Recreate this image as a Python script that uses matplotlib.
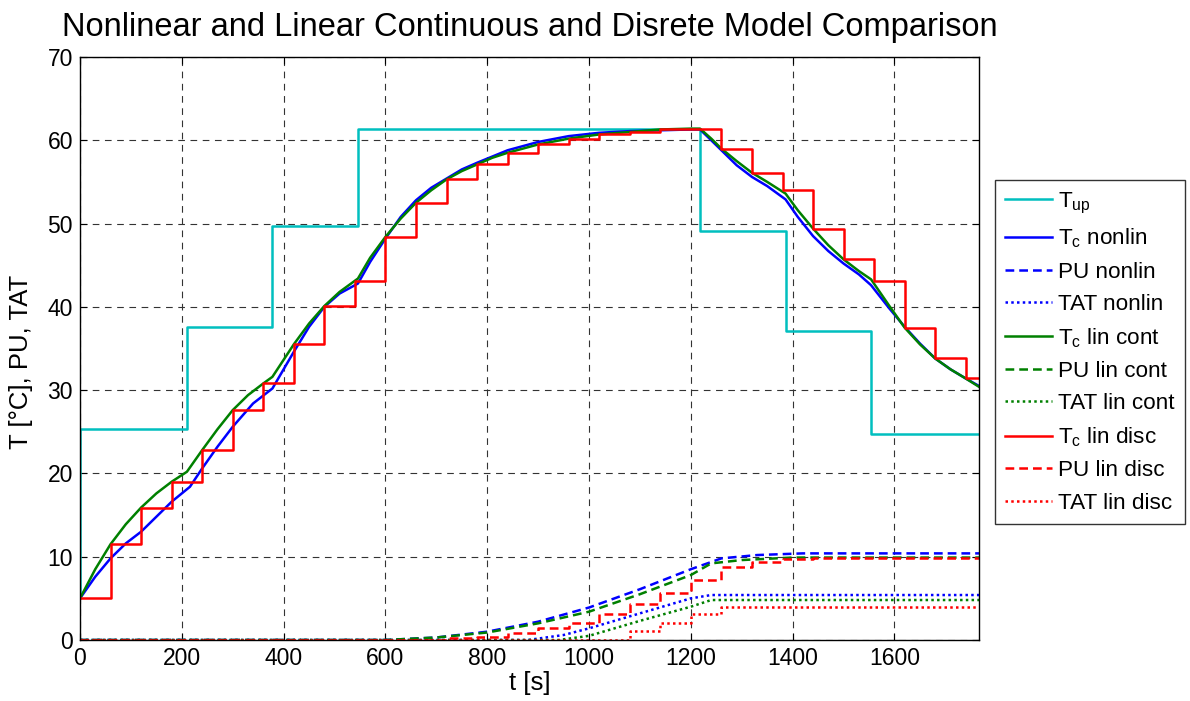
import matplotlib
matplotlib.use('Agg')
import matplotlib.pyplot as plt

plt.rcParams['font.family'] = ['Liberation Sans', 'DejaVu Sans']
plt.rcParams['mathtext.default'] = 'regular'

t_end = 1766

# upper temperature set point (step input)
tup_t = [0, 0, 210, 378, 546, 1218, 1386, 1554, t_end]
tup_v = [5.0, 25.3, 37.6, 49.7, 61.4, 49.1, 37.1, 24.7, 24.7]

# Tc, nonlinear model
tc_nl_t = [0, 30, 60, 90, 120, 150, 180, 216, 240, 270, 300, 340, 378, 420, 450, 480, 510,
           546, 570, 600, 630, 660, 690, 720, 750, 780, 840, 900, 960, 1020, 1080, 1140,
           1200, 1218, 1240, 1260, 1290, 1320, 1350, 1386, 1410, 1440, 1470, 1500, 1530,
           1554, 1590, 1620, 1650, 1680, 1710, 1740, t_end]
tc_nl_v = [5.0, 7.6, 9.8, 11.6, 13.0, 14.8, 16.6, 18.4, 20.6, 23.2, 25.6, 28.4, 30.2, 34.6,
           37.6, 40.0, 41.6, 42.8, 45.4, 48.2, 50.8, 52.8, 54.3, 55.4, 56.5, 57.3, 58.8,
           59.8, 60.5, 60.9, 61.1, 61.2, 61.3, 61.3, 60.0, 58.8, 57.0, 55.6, 54.5, 52.9,
           50.8, 48.5, 46.7, 45.2, 43.9, 42.6, 39.8, 37.6, 35.6, 33.8, 32.5, 31.4, 30.5]

# Tc, linear continuous model
tc_lc_t = [0, 30, 60, 90, 120, 150, 180, 210, 240, 270, 300, 330, 360, 378, 420, 450, 480,
           510, 546, 570, 600, 630, 660, 690, 720, 750, 780, 810, 840, 870, 900, 960,
           1020, 1080, 1140, 1200, 1218, 1240, 1260, 1290, 1320, 1350, 1386, 1410, 1440,
           1470, 1500, 1530, 1554, 1590, 1620, 1650, 1680, 1710, 1740, t_end]
tc_lc_v = [5.0, 8.5, 11.5, 13.9, 15.9, 17.6, 19.0, 20.2, 22.8, 25.3, 27.6, 29.4, 30.8, 31.6,
           35.5, 38.0, 40.1, 41.8, 43.4, 45.9, 48.4, 50.6, 52.5, 54.0, 55.3, 56.3, 57.1,
           57.9, 58.5, 59.0, 59.5, 60.2, 60.7, 61.0, 61.3, 61.4, 61.4, 60.2, 59.0, 57.5,
           56.1, 55.0, 53.6, 51.6, 49.4, 47.4, 45.7, 44.3, 43.3, 40.1, 37.5, 35.5, 33.8,
           32.5, 31.4, 30.4]

# Tc, linear discrete model (60 s sample)
tc_ld_t = [0, 60, 120, 180, 240, 300, 360, 420, 480, 540, 600, 660, 720, 780, 840, 900, 960,
           1020, 1080, 1140, 1200, 1260, 1320, 1380, 1440, 1500, 1560, 1620, 1680, 1740, t_end]
tc_ld_v = [5.0, 11.5, 15.9, 19.0, 22.8, 27.6, 30.8, 35.5, 40.1, 43.1, 48.4, 52.5, 55.3, 57.1,
           58.5, 59.5, 60.2, 60.7, 61.0, 61.3, 61.4, 59.0, 56.1, 54.0, 49.4, 45.7, 43.1,
           37.5, 33.8, 31.4, 31.4]

# PU curves
pu_nl_t = [0, 600, 700, 800, 900, 1000, 1100, 1200, 1260, 1330, 1420, t_end]
pu_nl_v = [0, 0, 0.3, 1.0, 2.2, 3.9, 6.1, 8.5, 9.8, 10.2, 10.4, 10.4]
pu_lc_t = [0, 600, 700, 800, 900, 1000, 1100, 1200, 1240, 1300, 1400, t_end]
pu_lc_v = [0, 0, 0.3, 0.9, 2.0, 3.4, 5.5, 7.8, 9.2, 9.6, 9.9, 9.9]
pu_ld_t = [0, 720, 780, 840, 900, 960, 1020, 1080, 1140, 1200, 1260, 1320, 1380, 1440, t_end]
pu_ld_v = [0, 0.2, 0.4, 0.8, 1.4, 2.1, 3.1, 4.3, 5.6, 7.2, 8.8, 9.4, 9.7, 9.8, 9.8]

# TAT curves
tat_nl_t = [0, 880, 950, 1000, 1100, 1200, 1240, t_end]
tat_nl_v = [0, 0, 0.6, 1.4, 3.2, 5.0, 5.4, 5.4]
tat_lc_t = [0, 940, 1000, 1100, 1200, 1240, t_end]
tat_lc_v = [0, 0, 0.5, 2.3, 4.0, 4.8, 4.8]
tat_ld_t = [0, 1080, 1140, 1200, 1260, t_end]
tat_ld_v = [0, 1.1, 2.1, 3.1, 4.0, 4.0]

cyan = '#00BFBF'
blue = '#0000FF'
green = '#008000'
red = '#FF0000'
dash = (0, (3.5, 2))
dot = (0, (1, 1.3))

fig = plt.figure(figsize=(11.9, 7.01), dpi=100)
ax = fig.add_axes([80 / 1190, 61 / 701, 899 / 1190, 583 / 701])

lw = 1.8
ax.plot(tup_t, tup_v, color=cyan, lw=lw, drawstyle='steps-post', label=r'$T_{up}$')
ax.plot(tc_nl_t, tc_nl_v, color=blue, lw=lw, label=r'$T_c$ nonlin')
ax.plot(pu_nl_t, pu_nl_v, color=blue, lw=lw, ls=dash, label='PU nonlin')
ax.plot(tat_nl_t, tat_nl_v, color=blue, lw=lw, ls=dot, label='TAT nonlin')
ax.plot(tc_lc_t, tc_lc_v, color=green, lw=lw, label=r'$T_c$ lin cont')
ax.plot(pu_lc_t, pu_lc_v, color=green, lw=lw, ls=dash, label='PU lin cont')
ax.plot(tat_lc_t, tat_lc_v, color=green, lw=lw, ls=dot, label='TAT lin cont')
ax.plot(tc_ld_t, tc_ld_v, color=red, lw=lw, drawstyle='steps-post', label=r'$T_c$ lin disc')
ax.plot(pu_ld_t, pu_ld_v, color=red, lw=lw, ls=dash, drawstyle='steps-post', label='PU lin disc')
ax.plot(tat_ld_t, tat_ld_v, color=red, lw=lw, ls=dot, drawstyle='steps-post', label='TAT lin disc')

ax.set_xlim(0, t_end)
ax.set_ylim(0, 70)
ax.set_xticks(range(0, 1601, 200))
ax.set_yticks(range(0, 71, 10))
ax.tick_params(direction='in', top=True, right=True, labelsize=16.5, length=5, pad=5)
ax.grid(True, color='#333333', ls=(0, (6, 5)), lw=0.8)
for s in ax.spines.values():
    s.set_linewidth(1.0)

ax.set_title('Nonlinear and Linear Continuous and Disrete Model Comparison', fontsize=23.5, pad=15)
ax.set_xlabel('t [s]', fontsize=18.5, labelpad=1)
ax.set_ylabel('T [°C], PU, TAT', fontsize=18.5)
ax.yaxis.set_label_coords(-0.052, 0.477)

leg = ax.legend(loc='center left', bbox_to_anchor=(995 / 1190, 349 / 701),
                bbox_transform=fig.transFigure, fontsize=16.2, frameon=True, fancybox=False,
                edgecolor='black', handlelength=2.1, handletextpad=0.25, borderaxespad=0,
                labelspacing=0.5, borderpad=0.45)
leg.get_frame().set_linewidth(1.0)

fig.savefig('out.png', dpi=100)
